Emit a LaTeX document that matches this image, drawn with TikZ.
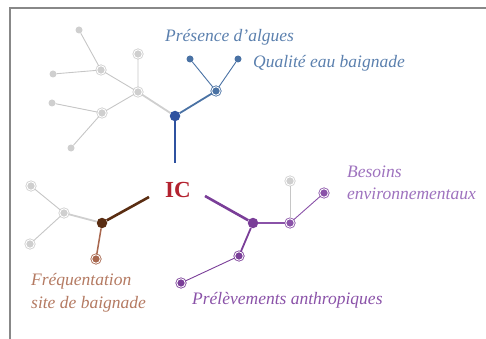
\documentclass[tikz,border=0pt]{standalone}
\usepackage{fontspec}
\setmainfont{Liberation Serif}
\begin{document}
\begin{tikzpicture}[x=1pt,y=-1pt,
  gry/.style={draw=gray!45,line width=0.9pt},
  endpt/.style={circle,inner sep=0pt,minimum size=7pt},
  hub/.style={circle,inner sep=0pt,minimum size=10.5pt},
  ringpt/.style={circle,inner sep=0pt,minimum size=8.5pt,double=white,double distance=0.9pt,line width=0.8pt},
  lbl/.style={font=\itshape\fontsize{17.5}{22.5}\selectfont,anchor=west,inner sep=0pt}]
\useasboundingbox (0,0) rectangle (486,339);
\definecolor{gr}{HTML}{CFCFCF}
\definecolor{bluehub}{HTML}{2F52A0}
\definecolor{bluel}{HTML}{4A72A4}
\definecolor{bluetxt}{HTML}{5B80AE}
\definecolor{brhub}{HTML}{5A2D12}
\definecolor{brl}{HTML}{A8674E}
\definecolor{brtxt}{HTML}{B47A62}
\definecolor{purhub}{HTML}{7A3E98}
\definecolor{purl}{HTML}{8A52A8}
\definecolor{purtxt}{HTML}{9E72BE}
\definecolor{icred}{HTML}{B3222F}
\definecolor{frame}{HTML}{888888}
% frame
\draw[frame,line width=2.4pt] (10,339) -- (10,8) -- (486,8);
% IC
\node[font=\bfseries\fontsize{23}{25}\selectfont,text=icred,inner sep=0pt] (ic) at (178,190) {IC};
\coordinate (icN) at (175,163);
\coordinate (icW) at (149,197);
\coordinate (icE) at (205,196);
% gray upper-left tree
\node[endpt,fill=gr] (a1) at (79,30) {};
\node[endpt,fill=gr] (a2) at (53,74) {};
\node[endpt,fill=gr] (a3) at (52,103) {};
\node[endpt,fill=gr] (a4) at (71,148) {};
\node[ringpt,draw=gr,fill=gr] (b1) at (101,70) {};
\node[ringpt,draw=gr,fill=gr] (b2) at (102,113) {};
\node[ringpt,draw=gr,fill=gr] (c) at (138,54) {};
\node[ringpt,draw=gr,fill=gr] (d) at (138,92) {};
% blue tree
\node[hub,fill=bluehub] (e) at (175,116) {};
\node[ringpt,draw=bluel,fill=bluel] (f) at (216,91) {};
\node[endpt,fill=bluel] (g1) at (190,59) {};
\node[endpt,fill=bluel] (g2) at (238,59) {};
\draw[gry] (a1) -- (b1) (a2) -- (b1) (b1) -- (d) (c) -- (d) (a3) -- (b2) (a4) -- (b2) (b2) -- (d);
\draw[gr,line width=1.8pt] (d) -- (e);
\draw[bluehub,line width=2.6pt] (e) -- (icN);
\draw[bluel,line width=1.8pt] (e) -- (f);
\draw[bluel,line width=0.9pt] (f) -- (g1) (f) -- (g2);
\node[lbl,text=bluetxt] (t1) at (165,37) {Présence d’algues};
\node[lbl,text=bluetxt] (t2) at (253,63) {Qualité eau baignade};
% brown tree
\node[ringpt,draw=gr,fill=gr] (h1) at (31,186) {};
\node[ringpt,draw=gr,fill=gr] (h2) at (64,213) {};
\node[ringpt,draw=gr,fill=gr] (h3) at (30,244) {};
\node[hub,fill=brhub] (i) at (102,223) {};
\node[ringpt,draw=brl,fill=brl] (j) at (96,259) {};
\draw[gry] (h1) -- (h2) (h3) -- (h2);
\draw[gr,line width=1.8pt] (h2) -- (i);
\draw[brhub,line width=2.6pt] (i) -- (icW);
\draw[brl,line width=1.5pt] (i) -- (j);
\node[lbl,text=brtxt,align=left] (t3) at (31,293) {Fréquentation\\site de baignade};
% purple tree
\node[hub,fill=purhub] (k) at (253,223) {};
\node[ringpt,draw=purl,fill=purl] (l) at (290,223) {};
\node[ringpt,draw=gr,fill=gr] (m) at (290,181) {};
\node[ringpt,draw=purl,fill=purl] (n) at (324,193) {};
\node[ringpt,draw=purhub,fill=purhub] (o) at (239,256) {};
\node[ringpt,draw=purhub,fill=purhub] (p) at (181,283) {};
\draw[purhub,line width=2.6pt] (icE) -- (k);
\draw[purhub,line width=1.8pt] (k) -- (o);
\draw[purhub,line width=0.9pt] (o) -- (p);
\draw[purl,line width=1.5pt] (k) -- (l);
\draw[purl,line width=0.9pt] (l) -- (n);
\draw[gry] (l) -- (m);
\node[lbl,text=purtxt,align=left] (t4) at (347,183) {Besoins\\environnementaux};
\node[lbl,text=purl] (t5) at (192,300) {Prélèvements anthropiques};
\end{tikzpicture}
\end{document}
